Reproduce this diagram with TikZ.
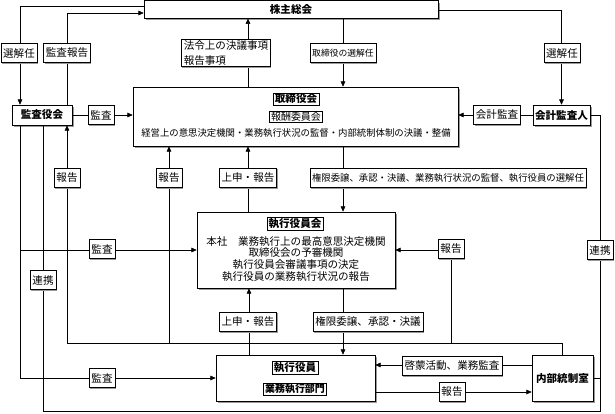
\documentclass[tikz,border=0pt]{standalone}
\usepackage{fontspec}
\newfontfamily\jp{Noto Sans CJK JP}
\usepackage{xcolor}
\definecolor{shadowGray}{HTML}{9A9A9A}
\usetikzlibrary{positioning,calc,arrows.meta,shadows}
\tikzset{%
  mainBox/.style={%
    rectangle,
    draw=black,
    fill=white,
    line width=0.5pt,
    inner xsep=1pt,
    inner ysep=1pt,
    align=center,
    font=\jp\bfseries\fontsize{9}{11}\selectfont,
    drop shadow={shadow xshift=1.6pt,shadow yshift=-1.6pt,fill=shadowGray,opacity=1}
  },
  labelBox/.style={%
    rectangle,
    draw=black,
    fill=white,
    line width=0.4pt,
    inner xsep=2pt,
    inner ysep=1pt,
    minimum height=0.58cm,
    font=\jp\fontsize{9}{11}\selectfont,
    drop shadow={shadow xshift=0.8pt,shadow yshift=-0.8pt,fill=shadowGray,opacity=1}
  },
  titleBox/.style={%
    rectangle,
    draw=black,
    fill=white,
    inner xsep=1.5pt,
    inner ysep=1pt,
    font=\jp\bfseries\fontsize{9}{11}\selectfont
  },
  subBox/.style={%
    rectangle,
    draw=black,
    fill=white,
    inner xsep=1.5pt,
    inner ysep=0.8pt,
    font=\jp\fontsize{8.5}{10}\selectfont
  },
  bodyText/.style={%
    align=center,
    inner sep=0pt,
    font=\jp\fontsize{9}{10.2}\selectfont
  },
  arrowLine/.style={%
    -{Triangle[length=1.6mm,width=1.4mm]},
    line width=0.5pt,
    color=black
  },
  plainLine/.style={%
    line width=0.5pt,
    color=black
  }
}

\begin{document}
\begin{tikzpicture}[x=0.03cm,y=-0.03cm]
            \useasboundingbox (0,0) rectangle (615,413);

            % main boxes
            \node[mainBox, minimum width=8.82cm, minimum height=0.525cm] (sh) at (291,9.5) {株主総会};
            \node[mainBox, minimum width=1.8cm, minimum height=0.6cm] (kansa) at (42,115) {監査役会};
            \node[mainBox, minimum width=1.71cm, minimum height=0.6cm] (kaikei) at (561.5,115) {会計監査人};
            \node[mainBox, minimum width=9.75cm, minimum height=1.77cm] (tori) at (295.5,116.5) {};
            \node[mainBox, minimum width=5.94cm, minimum height=2.28cm] (shikkoukai) at (296,250) {};
            \node[mainBox, minimum width=4.77cm, minimum height=1.38cm] (gyomu) at (295.5,378) {};
            \node[mainBox, minimum width=1.83cm, minimum height=1.38cm] (naibu) at (562.5,378) {内部統制室};

            % contents of the boxes
            \node[titleBox] (toriTitle) at (296,99) {取締役会};
            \node[subBox] (houshu) at (296,117) {報酬委員会};
            \node[bodyText, font=\jp\fontsize{8}{10}\selectfont] (toriText) at (296,133) {経営上の意思決定機関・業務執行状況の監督・内部統制体制の決議・整備};
            \node[titleBox] (shikkouTitle) at (295,224) {執行役員会};
            \node[bodyText] (shikkouText) at (296,259) {本社　業務執行上の最高意思決定機関\\取締役会の予審機関\\執行役員会審議事項の決定\\執行役員の業務執行状況の報告};
            \node[titleBox] (yakuin) at (295,368) {執行役員};
            \node[titleBox, font=\jp\bfseries\fontsize{8.5}{10}\selectfont] (bumon) at (295,389) {業務執行部門};

            % corners of the long lines
            \coordinate (cornerR) at (600,411);
            \coordinate (busL) at (67,343);
            \coordinate (busA) at (169,343);
            \coordinate (busB) at (451,343);

            % connectors
            \draw[arrowLine] (sh.west |- 0,6) -| (kansa.north -| 20,0);
            \draw[arrowLine] (kansa.north -| 67,0) |- (sh.west |- 0,13);
            \draw[arrowLine] (sh.east |- 0,10) -| (kaikei.north);
            \draw[arrowLine] (tori.north -| 248,0) -- (sh.south -| 248,0);
            \draw[arrowLine] (sh.south -| 343,0) -- (tori.north -| 343,0);
            \draw[arrowLine] (kansa.east) -- (tori.west |- kansa.east);
            \draw[arrowLine] (kaikei.west) -- (tori.east |- kaikei.west);
            \draw[plainLine] (kaikei.east) -| (cornerR) -| (kansa.south -| 43,0);
            \draw[plainLine] (naibu.east) -- (naibu.east -| cornerR);
            \draw[arrowLine] (kansa.south -| 20,0) |- (gyomu.west);
            \draw[arrowLine] (kansa.south -| 20,0) |- (shikkoukai.west);
            \draw[arrowLine] (naibu.north) |- (busL) -- (kansa.south -| busL);
            \draw[arrowLine] (busA) -- (tori.south -| busA);
            \draw[arrowLine] (busB) |- (shikkoukai.east);
            \draw[arrowLine] (shikkoukai.north -| 248,0) -- (tori.south -| 248,0);
            \draw[arrowLine] (tori.south -| 343,0) -- (shikkoukai.north -| 343,0);
            \draw[arrowLine] (gyomu.north -| 249,0) -- (shikkoukai.south -| 249,0);
            \draw[arrowLine] (shikkoukai.south -| 343,0) -- (gyomu.north -| 343,0);
            \draw[arrowLine] (naibu.west |- 0,365) -- (gyomu.east |- 0,365);
            \draw[arrowLine] (gyomu.east |- 0,392) -- (naibu.west |- 0,392);

            % labels on the lines
            \node[labelBox] (lSenL) at (19,53) {選解任};
            \node[labelBox] (lKansaHoukoku) at (67,53) {監査報告};
            \node[labelBox, align=left, font=\jp\fontsize{9}{13}\selectfont] (lHourei) at (226,53) {法令上の決議事項\\報告事項};
            \node[labelBox, font=\jp\fontsize{7.5}{9}\selectfont] (lToriSen) at (343,53) {取締役の選解任};
            \node[labelBox] (lSenR) at (562,53) {選解任};
            \node[labelBox] (lKansa1) at (101,115) {監査};
            \node[labelBox] (lKaikei) at (497,115) {会計監査};
            \node[labelBox] (lHoukoku1) at (67,178) {報告};
            \node[labelBox] (lHoukoku2) at (169,178) {報告};
            \node[labelBox] (lJoushin1) at (248,178) {上申・報告};
            \node[labelBox, font=\jp\fontsize{8}{10}\selectfont] (lKengen1) at (448,178) {権限委譲、承認・決議、業務執行状況の監督、執行役員の選解任};
            \node[labelBox] (lKansa2) at (102,249) {監査};
            \node[labelBox] (lHoukoku3) at (451,249) {報告};
            \node[labelBox] (lRenkeiR) at (600,250) {連携};
            \node[labelBox] (lRenkeiL) at (43,280) {連携};
            \node[labelBox] (lJoushin2) at (248,322) {上申・報告};
            \node[labelBox] (lKengen2) at (368,322) {権限委譲、承認・決議};
            \node[labelBox] (lKansa3) at (102,378) {監査};
            \node[labelBox] (lKeimou) at (452,366) {啓蒙活動、業務監査};
            \node[labelBox] (lHoukoku4) at (452,392) {報告};
        \end{tikzpicture}
\end{document}
